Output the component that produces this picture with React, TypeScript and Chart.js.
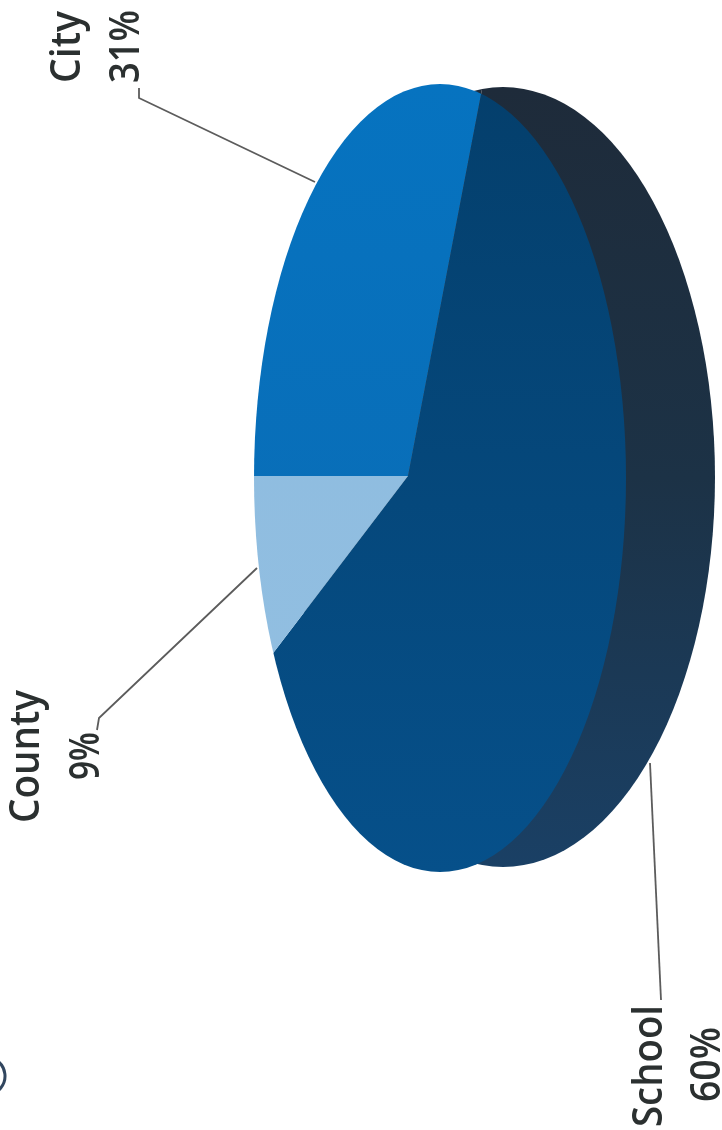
import React, { useEffect, useRef } from "react";
import { Chart, registerables } from "chart.js";

Chart.register(...registerables);

const categories = ["City", "School", "County"];
const shares = [31, 60, 9];
const shareLabels = ["31%", "60%", "9%"];
const faceStops = [
  ["#0673c0", "#0b6ab2"],
  ["#043f6c", "#06508a"],
  ["#8cbade", "#93c0e2"],
];
const rimStops = ["#1e2b3a", "#1c3246", "#1a4065"];
const textColor = "#2b3030";
const leaderColor = "#5c5c5c";

const WIDTH = 722;
const HEIGHT = 1130;
const CX = WIDTH / 2;
const CY = HEIGHT / 2;
const R = Math.min(WIDTH, HEIGHT) / 2;

// view of the tilted pie
const APEX = { x: 408, y: 476 };
const SX = 360 / R;
const SY = 745 / R;
const FRONT = { x: 440, y: 478, rx: 186, ry: 394 };
const BACK = { x: 503, y: 477, rx: 212, ry: 390 };

const toArcY = (y: number) => CY + (y - APEX.y) / SY;

function gradient(ctx: CanvasRenderingContext2D, y0: number, y1: number, stops: string[]) {
  const g = ctx.createLinearGradient(0, toArcY(y0), 0, toArcY(y1));
  stops.forEach((c, i) => g.addColorStop(i / (stops.length - 1), c));
  return g;
}

function project(ctx: CanvasRenderingContext2D) {
  ctx.translate(APEX.x, APEX.y);
  ctx.scale(SX, SY);
  ctx.translate(-CX, -CY);
}

function clipEllipse(ctx: CanvasRenderingContext2D, e: typeof FRONT) {
  ctx.beginPath();
  ctx.ellipse(e.x, e.y, e.rx, e.ry, 0, 0, Math.PI * 2);
  ctx.clip();
}

const labelLayout = [
  { name: [80, 83, 72], share: [139, 83, 73], leader: [[315, 182], [139, 98], [139, 88]] },
  { name: [662, 1127, 122], share: [720, 1102, 75], leader: [[650, 763], [661, 1000]] },
  { name: [39, 823, 133], share: [99, 780, 48], leader: [[257, 568], [99, 718], [97, 730]] },
];

const tiltedPie = {
  id: "tiltedPie",
  beforeDatasetsDraw(chart: any) {
    const ctx: CanvasRenderingContext2D = chart.ctx;
    const arcs = chart.getDatasetMeta(0).data;
    const rim = gradient(ctx, 88, 868, rimStops);
    ctx.save();
    clipEllipse(ctx, BACK);
    project(ctx);
    arcs.forEach((arc: any) => {
      const original = arc.options;
      arc.options = Object.create(original);
      arc.options.backgroundColor = rim;
      arc.draw(ctx);
      arc.options = original;
    });
    ctx.restore();
    ctx.save();
    clipEllipse(ctx, FRONT);
    project(ctx);
  },
  afterDatasetsDraw(chart: any) {
    const ctx: CanvasRenderingContext2D = chart.ctx;
    ctx.restore();

    ctx.strokeStyle = leaderColor;
    ctx.lineWidth = 1.8;
    labelLayout.forEach((l) => {
      ctx.beginPath();
      l.leader.forEach(([x, y], i) => (i ? ctx.lineTo(x, y) : ctx.moveTo(x, y)));
      ctx.stroke();
    });

    ctx.fillStyle = textColor;
    ctx.font = '600 42px "Open Sans"';
    ctx.textAlign = "left";
    ctx.textBaseline = "alphabetic";
    const put = (text: string, [x, y, w]: number[]) => {
      ctx.save();
      ctx.translate(x, y);
      ctx.rotate(-Math.PI / 2);
      ctx.fillText(text, 0, 0, w);
      ctx.restore();
    };
    categories.forEach((c, i) => {
      put(c, labelLayout[i].name);
      put(shareLabels[i], labelLayout[i].share);
    });

    // scan remnant at the lower left edge
    ctx.strokeStyle = "#31465f";
    ctx.lineWidth = 3;
    ctx.beginPath();
    ctx.arc(-14, 1076, 19, -0.9, 0.9);
    ctx.stroke();
  },
};

export default function App() {
  const ref = useRef<HTMLCanvasElement>(null);
  useEffect(() => {
    const canvas = ref.current!;
    const ctx = canvas.getContext("2d")!;
    const chart = new Chart(canvas, {
      type: "pie",
      data: {
        labels: categories,
        datasets: [
          {
            data: shares,
            backgroundColor: faceStops.map((s) => gradient(ctx, 85, 872, s)),
            borderWidth: 0,
            clip: false,
          } as any,
        ],
      },
      options: {
        responsive: false,
        animation: false,
        rotation: 270,
        layout: { padding: 0 },
        plugins: { legend: { display: false }, tooltip: { enabled: false } },
      },
      plugins: [tiltedPie],
    });
    return () => chart.destroy();
  }, []);
  return (
    <div style={{ position: "absolute", left: 0, top: 0, width: WIDTH, height: HEIGHT, background: "#fff" }}>
      <canvas ref={ref} width={WIDTH} height={HEIGHT} style={{ display: "block" }} />
    </div>
  );
}
